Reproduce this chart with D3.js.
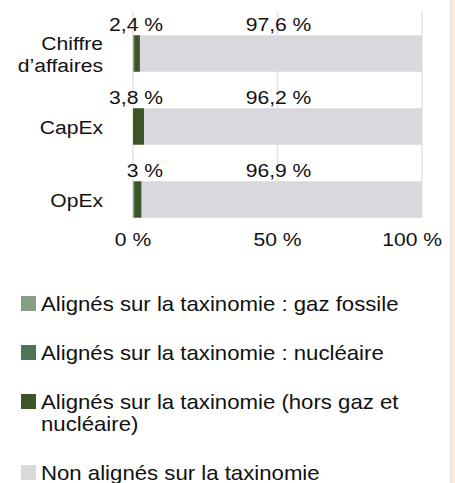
<!DOCTYPE html>
<html>
<head>
<meta charset="utf-8">
<script src="https://cdn.jsdelivr.net/npm/d3@7"></script>
<style>
    body { margin: 0; background: #fff; }
    svg { display: block; font-family: "Liberation Sans", Arial, sans-serif; fill: #111; }
</style>
</head>
<body>
<svg id="chart" width="455" height="483"></svg>
<script>
// categories and the stacked shares (%)
var categories = ['Chiffre d’affaires', 'CapEx', 'OpEx'];
var fossilGas = [0.4, 0, 0.4];
var nuclear = [0, 0, 0];
var otherAligned = [2.0, 3.8, 2.6];
var nonAligned = [97.6, 96.2, 96.9];
var alignedLabels = ['2,4 %', '3,8 %', '3 %'];
var ticks = [0, 50, 100];

var seriesNames = [
    'Alignés sur la taxinomie : gaz fossile',
    'Alignés sur la taxinomie : nucléaire',
    'Alignés sur la taxinomie (hors gaz et nucléaire)',
    'Non alignés sur la taxinomie'
];
var seriesColors = ['#86a083', '#4e7553', '#3c5627', '#d8d8dd'];

var svg = d3.select('#chart');
var svgWidth = +svg.attr('width');
var svgHeight = +svg.attr('height');

// the source picture is a bit wider than tall, so text gets stretched
var sx = 1.11;

// put a text at (px, py) with the horizontal stretch
function placeText(sel, px, py) {
    return sel.attr('transform', 'translate(' + px + ',' + py + ') scale(' + sx + ',1)');
}

// page edge on the right
svg.append('rect')
    .attr('x', 451).attr('y', 0)
    .attr('width', svgWidth - 451).attr('height', svgHeight)
    .attr('fill', '#fbe8d8');
svg.append('line')
    .attr('x1', 450.5).attr('x2', 450.5)
    .attr('y1', 0).attr('y2', svgHeight)
    .attr('stroke', '#e4e4e4');

var x = d3.scaleLinear().domain([0, 100]).range([133, 422]);
var y = d3.scaleBand().domain(categories).range([17, 236])
    .paddingInner(0.5).paddingOuter(0.25);

// build stack table
var table = categories.map(function(c, i) {
    return {cat: c, fossil: fossilGas[i], nuclear: nuclear[i], other: otherAligned[i], non: nonAligned[i]};
});
var keys = ['fossil', 'nuclear', 'other', 'non'];
var stacked = d3.stack().keys(keys)(table);

// gridlines
svg.append('g').selectAll('line')
    .data(ticks)
    .enter().append('line')
    .attr('x1', function(d) { return x(d); })
    .attr('x2', function(d) { return x(d); })
    .attr('y1', 12)
    .attr('y2', y.range()[1] - y.step() * 0.25)
    .attr('stroke', '#e3e3e3')
    .attr('stroke-width', 1.5);

// bars
svg.append('g').selectAll('g')
    .data(stacked)
    .enter().append('g')
    .attr('fill', function(d, i) { return seriesColors[i]; })
    .selectAll('rect')
    .data(function(d) { return d; })
    .enter().append('rect')
    .attr('x', function(d) { return x(d[0]); })
    .attr('y', function(d) { return y(d.data.cat); })
    .attr('width', function(d) { return x(d[1]) - x(d[0]); })
    .attr('height', y.bandwidth());

// value labels
var fmt = function(v) { return String(v).replace('.', ',') + ' %'; };
svg.append('g').selectAll('text')
    .data(table)
    .enter().append('text')
    .each(function(d) { placeText(d3.select(this), x(0) + 30, y(d.cat) - 4); })
    .attr('text-anchor', 'end')
    .style('font-size', '19px')
    .text(function(d, i) { return alignedLabels[i]; });

svg.append('g').selectAll('text')
    .data(table)
    .enter().append('text')
    .each(function(d) { placeText(d3.select(this), x(50) + 1, y(d.cat) - 4); })
    .attr('text-anchor', 'middle')
    .style('font-size', '19px')
    .text(function(d) { return fmt(d.non); });

// category labels (the long one goes on two lines)
svg.append('g').selectAll('text')
    .data(categories)
    .enter().append('text')
    .attr('text-anchor', 'end')
    .style('font-size', '19px')
    .each(function(c) {
        var lines = c.length > 10 ? c.split(' ') : [c];
        var cy = y(c) + y.bandwidth() / 2;
        var lh = 22;
        var t = placeText(d3.select(this), 103, cy + 7);
        lines.forEach(function(l, k) {
            t.append('tspan')
                .attr('x', 0)
                .attr('y', (k - (lines.length - 1) / 2) * lh)
                .text(l);
        });
    });

// x axis tick labels
svg.append('g').selectAll('text')
    .data(ticks)
    .enter().append('text')
    .each(function(d) {
        placeText(d3.select(this), d === 100 ? x(d) + 20 : x(d), 246);
    })
    .attr('text-anchor', function(d) { return d === 100 ? 'end' : 'middle'; })
    .style('font-size', '19px')
    .text(function(d) { return d + ' %'; });

// legend
var legendTop = 296;
var rowGap = 49;
var lineH = 22;
var maxW = 385;
var cursor = legendTop;
seriesNames.forEach(function(name, i) {
    var g = svg.append('g');
    g.append('rect')
        .attr('x', 21).attr('y', cursor)
        .attr('width', 15).attr('height', 15)
        .attr('fill', seriesColors[i]);
    var t = placeText(g.append('text'), 41, cursor + 14.5)
        .style('font-size', '20px');
    // simple word wrap
    var words = name.split(' ');
    var line = [];
    var tspan = t.append('tspan').attr('x', 0).attr('dy', 0);
    var nLines = 1;
    words.forEach(function(w) {
        line.push(w);
        tspan.text(line.join(' '));
        if (tspan.node().getComputedTextLength() * sx > maxW && line.length > 1) {
            line.pop();
            tspan.text(line.join(' '));
            line = [w];
            tspan = t.append('tspan').attr('x', 0).attr('dy', 23).text(w);
            nLines++;
        }
    });
    cursor += rowGap + (nLines - 1) * lineH;
});
</script>
</body>
</html>
